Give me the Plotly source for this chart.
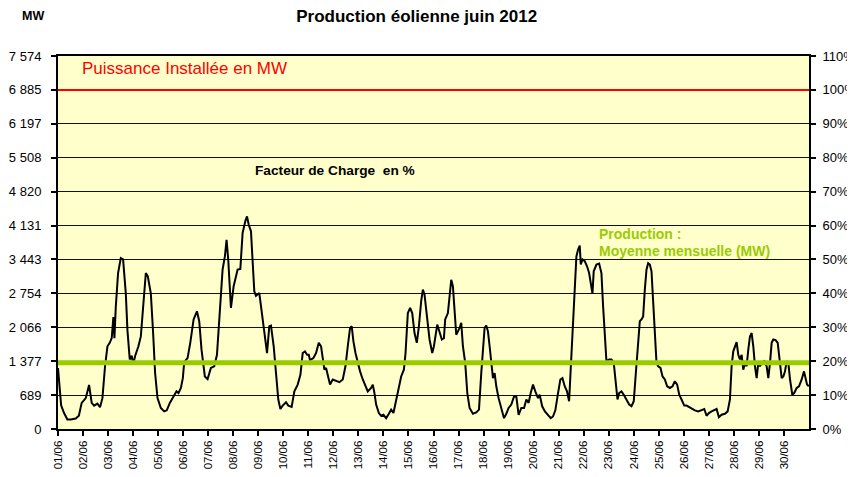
import pandas as pd
import plotly.graph_objects as go

# puissance installée et moyenne du mois (MW)
installed_mw = 6885
mean_mw = 1345

mw_ticks = [0, 689, 1377, 2066, 2754, 3443, 4131, 4820, 5508, 6197, 6885, 7574]
mw_labels = ['0', '689', '1 377', '2 066', '2 754', '3 443', '4 131',
             '4 820', '5 508', '6 197', '6 885', '7 574']
pct_ticks = [0, 10, 20, 30, 40, 50, 60, 70, 80, 90, 100, 110]
pct_labels = ['0%', '10%', '20%', '30%', '40%', '50%', '60%', '70%',
              '80%', '90%', '100%', '110%']

# heures depuis le 01/06 00:00
hours = [
    0, 1.5, 3, 5.8, 9, 12.2, 17, 20, 22.7, 26.6,
    29.8, 32.3, 34.6, 37.8, 40.3, 42.6, 45.1, 47.4, 49.6, 51.5,
    53.1, 54.1, 55.4, 57.6, 60.2, 62.4, 65, 66.6, 68.8, 70.7,
    72, 74, 77.1, 79.4, 81.6, 84.2, 86.1, 89, 91.2, 93.1,
    95.4, 98.6, 101.8, 104.3, 107.2, 111.4, 113.6, 115.5, 117.8, 119.7,
    121, 124.2, 126.8, 130, 133.2, 135.4, 137.6, 140.8, 143.4, 146.6,
    149.8, 152.4, 154.6, 157.8, 160, 161.6, 163.2, 165.8, 168.4, 170.6,
    172.2, 174.8, 177, 179.6, 181.2, 182.8, 185, 188.2, 189.8, 193,
    196.2, 198.4, 200.4, 202.6, 204.2, 206.8, 209, 211.2, 213.2, 215.4,
    218.6, 220.8, 224, 226.6, 229.8, 232.4, 234.6, 236.8, 238.8,
    240.4, 241.6, 244.8, 247.4, 250, 252.2, 253.8, 255.4, 257, 258.6,
    260.8, 263.4, 266.6, 269.8, 273, 275.6, 277.8, 280, 281.6, 283.2,
    285.2, 287.4, 289.6, 292.2, 294.8, 297, 300.2, 301.8, 303.4, 305,
    307.6, 309.8, 312, 314.6, 317.2, 319.4, 321.6, 324.2, 326.8, 329,
    331.6, 333.2, 335.4, 337.6, 339.6, 341.8, 344, 346, 348.2, 349.8,
    351.4, 353.6, 356.2,
    358.8, 360.4, 363.6, 365.8, 368, 370, 371.2, 373.8, 375.4, 377,
    378.6, 380.2, 381.8, 383.4, 385, 386.6, 388.2, 390.4, 392.4, 394.6,
    397.8, 401, 403.6, 405.8, 407.4, 409, 410.6, 412.2, 413.8, 416,
    417, 418.6, 420.2, 422.4, 425, 427.6, 429.8, 432, 434.6, 437.2,
    439.4, 441.6, 444.2, 446.8, 449, 451.2, 453.2, 455.4, 457.6, 460.2,
    461.8, 464.2, 466.8, 470, 472.4, 474.6, 476.8,
    479.4, 481.6, 483.6, 485.8, 488, 490, 491.2, 493.8, 495.4, 497,
    498.6, 500.2, 501.2, 502.8, 505, 507.2, 509.2, 510.8, 512.4, 513.6,
    516.2, 518.8, 521, 522.6, 524.2, 525.8, 528.4, 530.6, 532.8, 534.8,
    536.4, 538, 540.2, 542.4, 545, 547.6, 549.8, 552, 554, 556.2,
    557.8, 559.4, 561, 562.6, 564.2, 565.8, 567.4, 569, 570.6, 572.2,
    573.8, 575.4, 577.6, 579.6, 581.8, 584, 586.6, 589.2, 591.4, 593.6,
    595.6, 597.8,
    600.4, 602.6, 604.8, 607.4, 610.6, 613.8, 617, 619.6, 621.8, 624,
    626.6, 629.2, 631.4, 633.6, 636.2, 639.4, 642, 644.2, 645.8, 647.4,
    649, 650.6, 652.2, 653.8, 655.4, 657, 658.6, 660.2, 661.8, 663.4,
    665, 666.6, 668.2, 669.8, 671.4, 673, 674.6, 677.2, 679.4, 681,
    682.6, 684.2, 685.8, 688, 690, 692.2, 693.8, 695.4, 697, 698.6,
    700.2, 701.8, 704, 705.8, 708.2, 710.4, 713, 715.2, 716.8, 718.1,
    719.8,
]

# facteur de charge (% de la puissance installée)
load_factor = [
    18, 11, 7, 4.7, 2.8, 2.8, 3.1, 3.9, 7.7, 9.1,
    13.0, 7.7, 6.9, 7.5, 6.4, 9.1, 18.5, 24.4, 25.4, 26.8,
    33, 26.8, 36, 46, 50.4, 50, 40, 29, 20.5, 21.6,
    19, 21.6, 24.4, 27.3, 36, 46, 45, 40, 28.3, 16.5,
    9.1, 6.2, 5.2, 5.5, 7.7, 9.8, 11.1, 10.6, 12.1, 15,
    19.7, 20.9, 25.4, 32.3, 34.7, 31.8, 23.4, 15.5, 14.7, 18,
    18.5, 21.9, 32.3, 47, 50.9, 55.8, 50, 35.7, 42.1, 44.5,
    47, 47.2, 57.8, 61.3, 62.7, 60.3, 58.3, 40.6, 39.3, 40.1,
    32.3, 26.4, 22.4, 30.3, 30.5, 24.4, 17.5, 8.7, 5.9, 6.9,
    7.9, 6.9, 6.5, 11.1, 13.1, 16, 22.4, 22.9, 21.9,
    21.9, 20.3, 20.9, 22.4, 25.4, 24.4, 20.5, 17.5, 18, 15.5,
    13.1, 14.6, 14.1, 13.8, 14.6, 18.5, 24.4, 29.8, 30.3, 25.9,
    22.4, 19.5, 17, 14.6, 12.6, 11.1, 12.1, 13.1, 10.6, 7.2,
    4.7, 3.9, 4.2, 3.2, 4.5, 5.7, 4.7, 8.2, 12.1, 15.5,
    17.5, 22.4, 34.2, 35.7, 34.2, 28.3, 25.4, 30.3, 37.7, 41.1,
    39.6, 33.2, 26.4,
    22.4, 24.4, 30.8, 28.8, 26.4, 26.8, 32.3, 34.2, 39.1, 44,
    42.1, 34.2, 27.8, 28.8, 29.8, 31.3, 24.4, 19.5, 10.6, 6.2,
    4.5, 4.9, 5.7, 16.5, 24.4, 29.8, 30.5, 28.8, 24.4, 17.5,
    15, 16.5, 12.6, 9.1, 5.7, 3.2, 4.5, 6.2, 7.2, 9.6,
    9.6, 4.2, 6.2, 6.2, 8.7, 7.7, 10.6, 13.1, 11.1, 9.1,
    10.1, 6.7, 5.2, 3.9, 3.2, 3.7, 5.5,
    10.6, 14.6, 15, 12.6, 11.1, 8.2, 15.5, 31.3, 41.1, 50.9,
    52.9, 54.1, 48.5, 50, 49.5, 48, 46, 42.1, 39.9, 46.5,
    48.5, 48.8, 46, 36.2, 28.3, 20, 20.5, 20.5, 19.5, 13.1,
    8.7, 10.6, 11.1, 10.1, 8.7, 7.2, 6.7, 8.2, 16.5, 24.4,
    31.8, 32.3, 33.2, 41.1, 47, 48.9, 48.5, 46.5, 38.2, 28.3,
    19.5, 18.5, 18, 15.5, 14.6, 12.6, 12.1, 12.6, 14.1, 13.1,
    10.1, 8.7,
    6.9, 6.9, 6.5, 6.2, 5.5, 5.2, 5.5, 5.9, 3.9, 4.7,
    5.2, 5.5, 5.9, 3.5, 4.2, 4.5, 5.2, 8.7, 18.5, 22.9,
    24.4, 25.6, 21.9, 20.5, 21.9, 17.5, 19.5, 18.5, 23.4, 27.3,
    28.3, 24.4, 18.5, 15, 19.5, 18.5, 19.5, 20, 18.5, 15,
    19.5, 25.4, 26.4, 26.2, 25.4, 18.5, 15, 15.5, 17, 20,
    19.5, 14.6, 10.1, 10.6, 12.1, 12.6, 14.6, 17, 14.6, 13.1,
    12.6,
]

start = pd.Timestamp('2012-06-01')
times = start + pd.to_timedelta(hours, unit='h')
days = pd.date_range('2012-06-01', '2012-06-30', freq='D')

fig = go.Figure()
fig.add_trace(go.Scatter(
    x=times, y=load_factor, yaxis='y2', mode='lines',
    line=dict(color='black', width=2), hoverinfo='x+y'))

fig.add_shape(type='line', xref='paper', yref='y', x0=0, x1=1,
              y0=installed_mw, y1=installed_mw,
              line=dict(color='#FF0000', width=2), layer='above')
fig.add_shape(type='line', xref='paper', yref='y', x0=0, x1=1,
              y0=mean_mw, y1=mean_mw,
              line=dict(color='#99CC00', width=5), layer='above')

axis_common = dict(ticks='outside', ticklen=5, tickwidth=2, tickcolor='black',
                   showline=True, linewidth=2, linecolor='black',
                   automargin=False)

# la page est décalée d'environ 7 px : marges compensées
fig.update_layout(
    width=855, height=477,
    margin=dict(l=50, r=54, t=48, b=56),
    paper_bgcolor='white', plot_bgcolor='#FFFFCC',
    showlegend=False,
    font=dict(family='Liberation Sans, Arial, sans-serif', size=13, color='black'),
    title=dict(text='<b>Production éolienne juin 2012</b>', x=0.478, y=0.983,
               xanchor='center', yanchor='middle', font=dict(size=17)),
    xaxis=dict(type='date', range=[start, start + pd.Timedelta(days=30)],
               tickvals=days, tickformat='%d/%m', tickangle=-90,
               tickfont=dict(size=11.5), showgrid=False, mirror=True,
               **axis_common),
    yaxis=dict(range=[0, 7574], tickvals=mw_ticks, ticktext=mw_labels,
               showgrid=True, gridcolor='#111111', gridwidth=1,
               zeroline=False, ticklabelstandoff=7, **axis_common),
    yaxis2=dict(range=[0, 110], tickvals=pct_ticks, ticktext=pct_labels,
                overlaying='y', side='right', showgrid=False,
                zeroline=False, ticklabelstandoff=4, **axis_common),
)

notes = [
    ('<b>MW</b>', 32, 15, 'center', 12.5, 'black'),
    ('Puissance Installée en MW', 79, 67, 'left', 17, '#FF0000'),
    ('<b>Facteur de Charge  en %</b>', 252, 169, 'left', 13.7, 'black'),
    ('<b>Production :</b>', 596, 233, 'left', 14, '#99CC00'),
    ('<b>Moyenne mensuelle (MW)</b>', 596, 250, 'left', 14, '#99CC00'),
]
# positions données en pixels de la page de référence
for text, px, py_, anchor, size, color in notes:
    fig.add_annotation(text=text, xref='paper', yref='paper',
                       x=(px - 57) / 751, y=(428 - py_) / 373,
                       xanchor=anchor, yanchor='middle', showarrow=False,
                       font=dict(size=size, color=color))

fig.write_html('out.html')
